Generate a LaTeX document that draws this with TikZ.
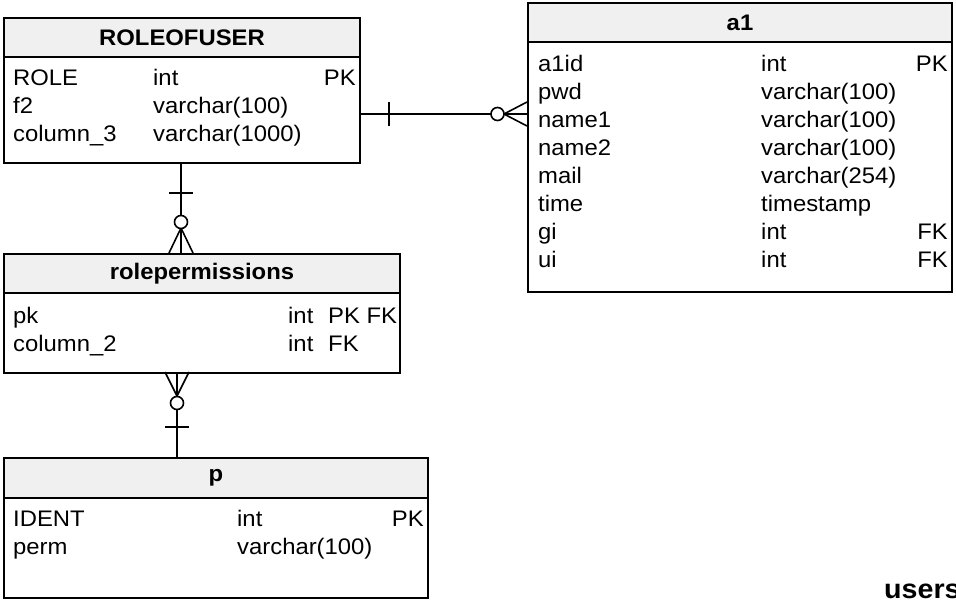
\documentclass[tikz,border=0pt]{standalone}
\usepackage{fontspec}
\setmainfont[FakeStretch=1.06]{Liberation Sans}
\usetikzlibrary{calc}
\definecolor{hdrgray}{RGB}{240,240,240}
\begin{document}
\begin{tikzpicture}[x=1pt,y=-1pt,
  tbl/.style={draw=black, line width=2pt, rectangle, anchor=north west, inner sep=0pt},
  hdr/.style={draw=black, line width=2pt, fill=hdrgray, rectangle, anchor=north west, inner sep=0pt, font=\fontsize{22.5}{26}\selectfont\bfseries},
  txt/.style={anchor=base west, inner sep=0pt, font=\fontsize{22.5}{28}\selectfont},
  txte/.style={anchor=base east, inner sep=0pt, font=\fontsize{22.5}{28}\selectfont},
  conn/.style={line width=1.6pt},
  tickline/.style={line width=1.6pt},
  ring/.style={line width=1.6pt, fill=white}
]
\clip (0,0) rectangle (956,606);
\fill[white] (0,0) rectangle (956,606);

% ROLEOFUSER
\node[hdr, minimum width=356pt, minimum height=39pt] (rouh) at (3,17) {ROLEOFUSER};
\node[tbl, minimum width=356pt, minimum height=145pt] (rou) at (3,17) {};
\node[txt] (rou1n) at (13,85) {ROLE};
\node[txt] (rou1t) at (153,85) {int};
\node[txte] (rou1k) at (356,85) {PK};
\node[txt] (rou2n) at (13,113) {f2};
\node[txt] (rou2t) at (153,113) {varchar(100)};
\node[txt] (rou3n) at (13,141) {column\_3};
\node[txt] (rou3t) at (153,141) {varchar(1000)};

% a1
\node[hdr, minimum width=424pt, minimum height=39pt] (a1h) at (527,2) {a1};
\node[tbl, minimum width=424pt, minimum height=289pt] (a1) at (527,2) {};
\node[txt] (a11n) at (538,71) {a1id};
\node[txt] (a11t) at (761,71) {int};
\node[txte] (a11k) at (948,71) {PK};
\node[txt] (a12n) at (538,99) {pwd};
\node[txt] (a12t) at (761,99) {varchar(100)};
\node[txt] (a13n) at (538,127) {name1};
\node[txt] (a13t) at (761,127) {varchar(100)};
\node[txt] (a14n) at (538,155) {name2};
\node[txt] (a14t) at (761,155) {varchar(100)};
\node[txt] (a15n) at (538,183) {mail};
\node[txt] (a15t) at (761,183) {varchar(254)};
\node[txt] (a16n) at (538,211) {time};
\node[txt] (a16t) at (761,211) {timestamp};
\node[txt] (a17n) at (538,239) {gi};
\node[txt] (a17t) at (761,239) {int};
\node[txte] (a17k) at (948,239) {FK};
\node[txt] (a18n) at (538,267) {ui};
\node[txt] (a18t) at (761,267) {int};
\node[txte] (a18k) at (948,267) {FK};

% rolepermissions
\node[hdr, minimum width=396pt, minimum height=39pt] (rph) at (3,253) {rolepermissions};
\node[tbl, minimum width=396pt, minimum height=119pt] (rp) at (3,253) {};
\node[txt] (rp1n) at (13,323) {pk};
\node[txt] (rp1t) at (288,323) {int};
\node[txt] (rp1k) at (328,323) {PK FK};
\node[txt] (rp2n) at (13,351) {column\_2};
\node[txt] (rp2t) at (288,351) {int};
\node[txt] (rp2k) at (328,351) {FK};

% p
\node[hdr, minimum width=424pt, minimum height=40pt] (ph) at (3,457) {p};
\node[tbl, minimum width=424pt, minimum height=140pt] (p) at (3,457) {};
\node[txt] (p1n) at (13,526) {IDENT};
\node[txt] (p1t) at (237,526) {int};
\node[txte] (p1k) at (424,526) {PK};
\node[txt] (p2n) at (13,554) {perm};
\node[txt] (p2t) at (237,554) {varchar(100)};

% label
\node[anchor=base west, inner sep=0pt, font=\fontsize{27}{30}\selectfont\bfseries] (users) at (884,598) {users};

% helper coordinates
\coordinate (yA) at (0,114);
\coordinate (yAt) at (0,102);
\coordinate (yAb) at (0,126);
\coordinate (xB) at (181,0);
\coordinate (xC) at (177,0);

% ROLEOFUSER -- a1 (one to zero-or-many)
\draw[conn] (rou.east |- yA) -- (a1.west |- yA);
\draw[tickline] (389,102) -- (389,126);
\draw[tickline] (504,114) -- (a1.west |- yAt);
\draw[tickline] (504,114) -- (a1.west |- yAb);
\draw[ring] (497.5,114) circle (6.5);

% ROLEOFUSER -- rolepermissions
\draw[conn] (rou.south -| xB) -- (rp.north -| xB);
\draw[tickline] (169,193) -- (193,193);
\draw[tickline] (181,228) -- (169,253);
\draw[tickline] (181,228) -- (193,253);
\draw[ring] (181,222) circle (6.5);

% rolepermissions -- p
\draw[conn] (rp.south -| xC) -- (p.north -| xC);
\draw[tickline] (165,427) -- (189,427);
\draw[tickline] (177,396) -- (165,372);
\draw[tickline] (177,396) -- (189,372);
\draw[ring] (177,403) circle (6.5);
\end{tikzpicture}
\end{document}
